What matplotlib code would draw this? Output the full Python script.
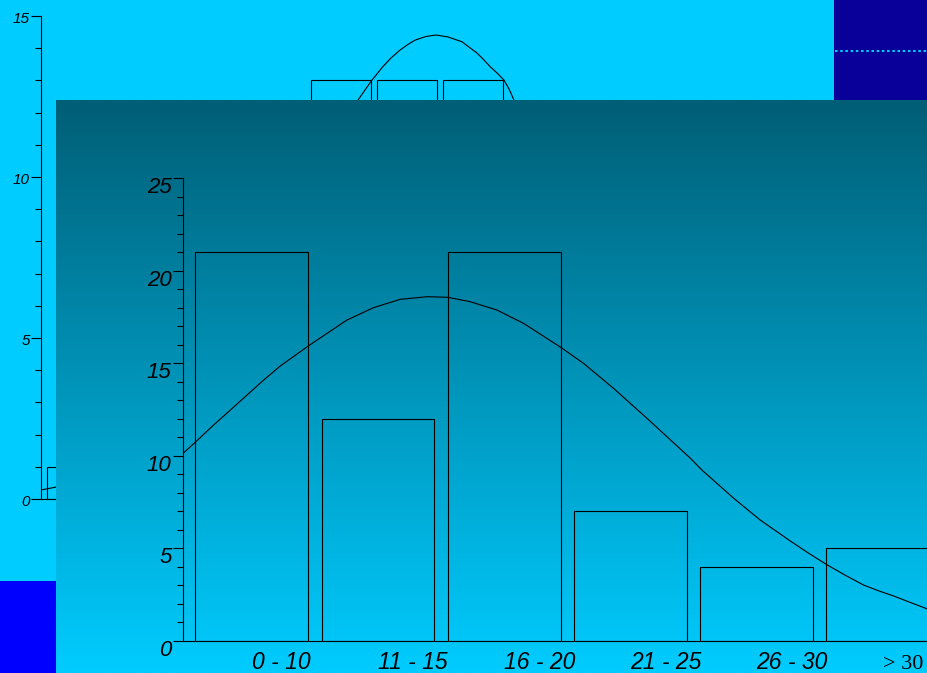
import numpy as np
import matplotlib
matplotlib.use('Agg')
import matplotlib.pyplot as plt
from matplotlib.patches import Rectangle
from matplotlib.ticker import MultipleLocator
from matplotlib import transforms

# front histogram
front_labels = ['0 - 10', '11 - 15', '16 - 20', '21 - 25', '26 - 30', '> 30']
front_counts = [21, 12, 21, 7, 4, 5]
front_yticks = [0, 5, 10, 15, 20, 25]
# normal curve (x in category units)
front_curve_x = [-0.545, -0.448, -0.303, -0.170, -0.038, 0.094, 0.226, 0.450, 0.596, 0.754,
                 0.965, 1.177, 1.388, 1.552, 1.731, 1.943, 2.154, 2.452, 2.629, 2.867,
                 3.132, 3.475, 3.567, 3.818, 4.029, 4.267, 4.410, 4.552, 4.700, 4.848,
                 4.970, 5.086, 5.230, 5.361]
front_curve_y = [10.13, 10.73, 11.66, 12.47, 13.28, 14.09, 14.85, 15.94, 16.61, 17.33,
                 18.00, 18.45, 18.59, 18.56, 18.32, 17.87, 17.15, 15.84, 14.99, 13.64,
                 12.02, 9.87, 9.23, 7.71, 6.53, 5.40, 4.75, 4.14, 3.56, 3.02,
                 2.70, 2.43, 2.05, 1.71]

# back histogram (mostly covered)
back_bins = [0, 4, 5, 6]
back_counts = [1, 13, 13, 13]
back_yticks = [0, 5, 10, 15]
back_curve_x = [-0.545, -0.318, 0.5, 1.5, 2.5, 3.5, 4.258, 4.370, 4.470, 4.636, 4.760, 4.894,
                5.010, 5.121, 5.280, 5.439, 5.620, 5.833, 6.061, 6.160, 6.258, 6.370, 6.470,
                6.550, 6.621, 7.5, 8.5]
back_curve_y = [0.28, 0.37, 1.0, 2.7, 5.7, 9.6, 12.39, 12.72, 13.01, 13.43, 13.70, 13.94,
                14.11, 14.25, 14.36, 14.41, 14.35, 14.20, 13.85, 13.65, 13.43, 13.22, 13.01,
                12.72, 12.39, 9.1, 5.3]

W, H = 928, 673
fig = plt.figure(figsize=(W / 100, H / 100), dpi=100, facecolor='#00CCFF')

def box(l, t, r, b):
    return [l / W, (H - b) / H, (r - l) / W, (b - t) / H]

def shift_labels(ax, dy):
    off = transforms.ScaledTranslation(0, -dy / 100, fig.dpi_scale_trans)
    for lbl in ax.get_yticklabels():
        lbl.set_transform(lbl.get_transform() + off)

# ---- back chart ----
axb = fig.add_axes(box(41, 16, 833, 499), zorder=1)
axb.set_facecolor('none')
axb.bar(back_bins, back_counts, width=0.909, fill=False, edgecolor='black', linewidth=0.8)
axb.plot(back_curve_x, back_curve_y, color='black', lw=0.8)
axb.set_xlim(-0.545, 11.455)
axb.set_ylim(0, 15)
for s in ['top', 'right']:
    axb.spines[s].set_visible(False)
for s in ['left', 'bottom']:
    axb.spines[s].set_linewidth(0.8)
axb.set_xticks([])
axb.yaxis.set_minor_locator(MultipleLocator(1))
axb.tick_params(axis='y', which='major', length=7.2, width=0.8, pad=0.8)
axb.tick_params(axis='y', which='minor', length=4.3, width=0.8)
axb.set_yticks(back_yticks, labels=[str(v) for v in back_yticks],
               fontsize=11, fontstyle='italic', fontfamily='Liberation Sans')
shift_labels(axb, 1.5)

# ---- overlay: panel and colour blocks ----
axo = fig.add_axes([0, 0, 1, 1], zorder=2)
axo.set_facecolor('none')
axo.axis('off')
top = np.array([0, 94, 118]) / 255
bot = np.array([0, 204, 255]) / 255
g = np.linspace(0, 1, 256)[:, None, None]
img = top + (bot - top) * g
axo.imshow(img, extent=(56, 928, 673, 100), aspect='auto', interpolation='bilinear')
axo.add_patch(Rectangle((834, 0), 94, 100, color='#080099', lw=0))
axo.add_patch(Rectangle((0, 581), 56, 92, color='#0000FF', lw=0))
axo.plot([835, 928], [50.5, 50.5], color='#00CCFF', lw=1.5, linestyle=(0, (1.2, 1.3)))
axo.set_xlim(0, W)
axo.set_ylim(H, 0)

# ---- front chart ----
ax = fig.add_axes(box(183, 178, 928, 641), zorder=3)
ax.set_facecolor('none')
x = np.arange(len(front_counts))
ax.bar(x, front_counts, width=0.895, fill=False, edgecolor='black', linewidth=0.8)
ax.plot(front_curve_x, front_curve_y, color='black', lw=0.8)
ax.set_xlim(-0.545, 5.358)
ax.set_ylim(0, 25)
for s in ['top', 'right']:
    ax.spines[s].set_visible(False)
for s in ['left', 'bottom']:
    ax.spines[s].set_linewidth(0.8)
ax.set_xticks([])
ax.yaxis.set_minor_locator(MultipleLocator(1))
ax.tick_params(axis='y', which='major', length=7.2, width=0.8, pad=1)
ax.tick_params(axis='y', which='minor', length=4.3, width=0.8)
ax.set_yticks(front_yticks, labels=[str(v) for v in front_yticks],
              fontsize=16, fontstyle='italic', fontfamily='Liberation Sans')
shift_labels(ax, 7)

lab_tr = transforms.offset_copy(ax.get_xaxis_transform(), fig=fig, x=0, y=-28, units='dots')
for i, lab in enumerate(front_labels):
    if lab.startswith('>'):
        ax.text(i, 0, lab, transform=lab_tr, ha='left', va='baseline', fontsize=16,
                fontfamily='Liberation Serif', clip_on=False)
    else:
        ax.text(i, 0, lab, transform=lab_tr, ha='left', va='baseline', fontsize=16.5,
                fontstyle='italic', fontfamily='Liberation Sans', clip_on=False)

fig.savefig('out.png', dpi=100, facecolor=fig.get_facecolor())
